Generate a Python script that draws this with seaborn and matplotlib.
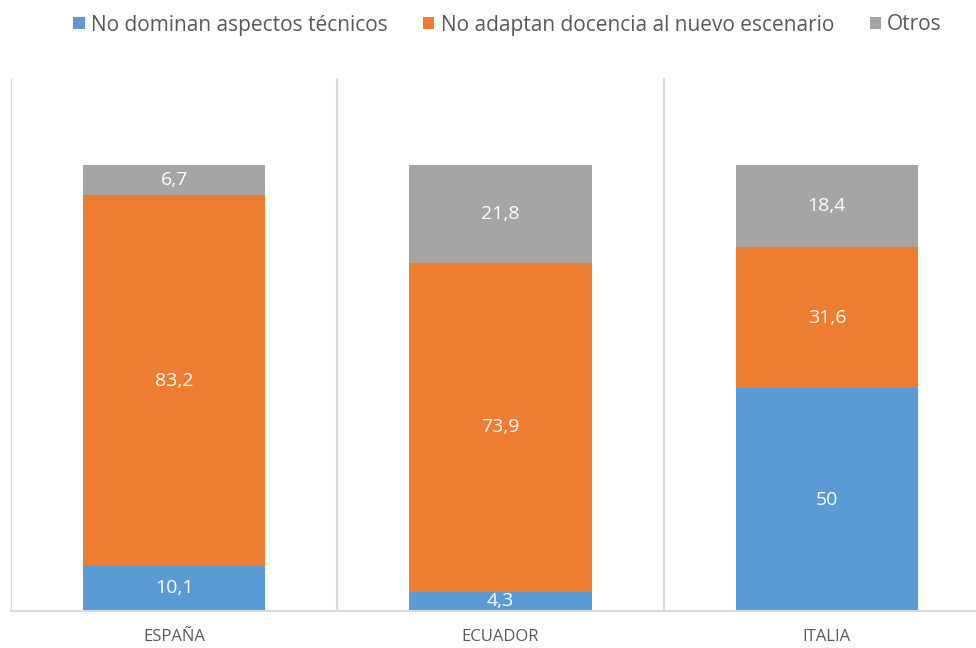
import matplotlib
matplotlib.use("Agg")
import matplotlib.pyplot as plt
import seaborn as sns
import numpy as np
from matplotlib.patches import Patch

sns.set_theme(style="white")
plt.rcParams['font.family'] = ['Open Sans', 'DejaVu Sans']

categories = ["ESPAÑA", "ECUADOR", "ITALIA"]
tecnicos = [10.1, 4.3, 50.0]
docencia = [83.2, 73.9, 31.6]
otros = [6.7, 21.8, 18.4]
series_names = ["No dominan aspectos técnicos", "No adaptan docencia al nuevo escenario", "Otros"]
colors = ["#5B9BD5", "#ED7D31", "#A5A5A5"]

def fmt(v):
    s = ("%.1f" % v).rstrip("0").rstrip(".")
    return s.replace(".", ",")

fig = plt.figure(figsize=(9.76, 6.48), dpi=100)
W, H = 976, 648
left, right, top, bottom = 11, 990, 78, 611
ax = fig.add_axes([left / W, 1 - bottom / H, (right - left) / W, (bottom - top) / H])

series = [tecnicos, docencia, otros]
base = np.zeros(len(categories))
for vals, col in zip(series, colors):
    sns.barplot(x=categories, y=vals, bottom=base, color=col, width=0.558,
                ax=ax, saturation=1, linewidth=0)
    for i, v in enumerate(vals):
        ax.text(i, base[i] + v / 2, fmt(v), ha="center", va="center",
                color="white", fontsize=14)
    base = base + np.array(vals)

ax.set_xlim(-0.5, len(categories) - 0.5)
ax.set_ylim(0, 119.6)
ax.set_yticks([])
ax.set_ylabel("")
for s in ["top", "right", "left"]:
    ax.spines[s].set_visible(False)
ax.spines["bottom"].set_color("#d9d9d9")
ax.spines["bottom"].set_linewidth(1.5)
for xb in np.arange(-0.5, len(categories), 1.0):
    ax.axvline(xb, color="#d9d9d9", linewidth=1.5, zorder=0)
ax.tick_params(axis="x", length=0, pad=13, labelsize=12, labelcolor="#595959")
ax.set_xticks(range(len(categories)))
ax.set_xticklabels(categories)

handles = [Patch(facecolor=c, edgecolor="none") for c in colors]
fig.legend(handles, series_names, loc="center", bbox_to_anchor=(0.52, 1 - 25 / H),
           ncol=3, frameon=False, fontsize=15, labelcolor="#595959",
           handlelength=0.55, handleheight=0.55, handletextpad=0.3, columnspacing=1.7)

fig.savefig("out.png", dpi=100)
